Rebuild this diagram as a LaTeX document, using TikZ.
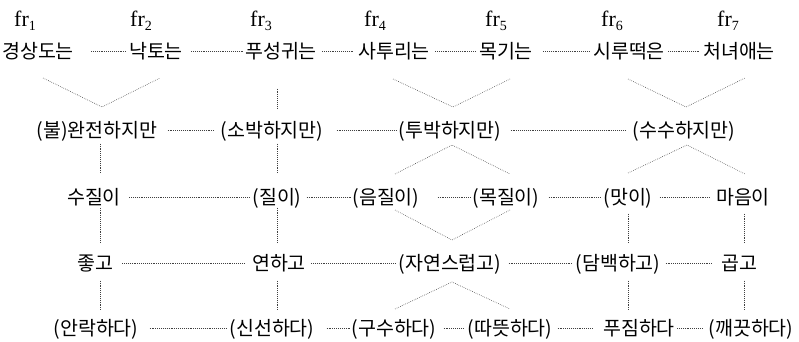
\documentclass[tikz,border=0pt]{standalone}
\usepackage{fontspec}
\setmainfont{Liberation Serif}
\newfontfamily\kr{Noto Sans CJK KR}
\tikzset{
  kw/.style={inner sep=0pt, text height=15pt, text depth=0pt, font=\kr\fontsize{19.5}{19.5}\selectfont},
  frl/.style={inner sep=0pt, anchor=base, font=\fontsize{22}{22}\selectfont},
  dl/.style={draw=black!75, line width=0.6pt, dash pattern=on 0.6pt off 1.3pt}
}
\newcommand{\frlab}[1]{fr{\fontsize{14}{14}\selectfont\raisebox{-4pt}{#1}}}
\begin{document}
\begin{tikzpicture}[x=1pt,y=-1pt]
\useasboundingbox (0,0) rectangle (799,342);
% headers
\node[frl] (f1) at (25,27) {\frlab{1}};
\node[frl] (f2) at (141,27) {\frlab{2}};
\node[frl] (f3) at (261,27) {\frlab{3}};
\node[frl] (f4) at (375,27) {\frlab{4}};
\node[frl] (f5) at (496,27) {\frlab{5}};
\node[frl] (f6) at (612,27) {\frlab{6}};
\node[frl] (f7) at (728,27) {\frlab{7}};
% columns for verticals
\coordinate (c1) at (100,0);
\coordinate (c3) at (277,0);
\coordinate (c6) at (628,0);
\coordinate (c7) at (744,0);
% row 1
\node[kw] (a1) at (38,51) {경상도는};
\node[kw] (a2) at (156,51) {낙토는};
\node[kw] (a3) at (281,51) {푸성귀는};
\node[kw] (a4) at (394,51) {사투리는};
\node[kw] (a5) at (506,51) {목기는};
\node[kw] (a6) at (629,51) {시루떡은};
\node[kw] (a7) at (739,51) {처녀애는};
% row 2
\node[kw] (b1) at (97,130) {(불)완전하지만};
\node[kw] (b2) at (272,130) {(소박하지만)};
\node[kw] (b3) at (450,130) {(투박하지만)};
\node[kw] (b4) at (684,130) {(수수하지만)};
% row 3
\node[kw] (d1) at (94,197) {수질이};
\node[kw] (d2) at (277,197) {(질이)};
\node[kw] (d3) at (386,197) {(음질이)};
\node[kw] (d4) at (506,197) {(목질이)};
\node[kw] (d5) at (628,197) {(맛이)};
\node[kw] (d6) at (743,197) {마음이};
% row 4
\node[kw] (e1) at (95,263) {좋고};
\node[kw] (e2) at (279,263) {연하고};
\node[kw] (e3) at (450,263) {(자연스럽고)};
\node[kw] (e4) at (618,263) {(담백하고)};
\node[kw] (e5) at (739,263) {곱고};
% row 5
\node[kw] (g1) at (96,328) {(안락하다)};
\node[kw] (g2) at (272,328) {(신선하다)};
\node[kw] (g3) at (394,328) {(구수하다)};
\node[kw] (g4) at (510,328) {(따뜻하다)};
\node[kw] (g5) at (639,328) {푸짐하다};
\node[kw] (g6) at (751,328) {(깨끗하다)};
% horizontal dotted links
\draw[dl] ([xshift=17pt]a1.east) -- ([xshift=-3pt]a2.west);
\draw[dl] ([xshift=8pt]a2.east) -- ([xshift=-1pt]a3.west);
\draw[dl] ([xshift=5pt]a3.east) -- ([xshift=-5pt]a4.west);
\draw[dl] ([xshift=5pt]a4.east) -- ([xshift=-3pt]a5.west);
\draw[dl] ([xshift=10pt]a5.east) -- ([xshift=-4pt]a6.west);
\draw[dl] ([xshift=3pt]a6.east) -- ([xshift=-4pt]a7.west);
\draw[dl] ([xshift=10pt]b1.east) -- ([xshift=-6pt]b2.west);
\draw[dl] ([xshift=13pt]b2.east) -- ([xshift=-2pt]b3.west);
\draw[dl] ([xshift=9pt]b3.east) -- ([xshift=-6pt]b4.west);
\draw[dl] ([xshift=8pt]d1.east) -- ([xshift=-2pt]d2.west);
\draw[dl] ([xshift=5pt]d2.east) -- ([xshift=-1pt]d3.west);
\draw[dl] ([xshift=18pt]d3.east) -- ([xshift=-1pt]d4.west);
\draw[dl] ([xshift=9pt]d4.east) -- ([xshift=-3pt]d5.west);
\draw[dl] ([xshift=7pt]d5.east) -- ([xshift=-6pt]d6.west);
\draw[dl] ([xshift=9pt]e1.east) -- ([xshift=-8pt]e2.west);
\draw[dl] ([xshift=5pt]e2.east) -- ([xshift=-2pt]e3.west);
\draw[dl] ([xshift=7pt]e3.east) -- ([xshift=-3pt]e4.west);
\draw[dl] ([xshift=5pt]e4.east) -- ([xshift=-8pt]e5.west);
\draw[dl] ([xshift=11pt]g1.east) -- ([xshift=-3pt]g2.west);
\draw[dl] ([xshift=12pt]g2.east) -- ([xshift=-1pt]g3.west);
\draw[dl] ([xshift=7pt]g3.east) -- ([xshift=-3pt]g4.west);
\draw[dl] ([xshift=5pt]g4.east) -- ([xshift=-11pt]g5.west);
\draw[dl] ([xshift=2pt]g5.east) -- ([xshift=-5pt]g6.west);
% vertical dotted links
\draw[dl, shorten <=30pt, shorten >=13pt] (a3.south -| c3) -- (b2.north -| c3);
\draw[dl, shorten <=6pt, shorten >=17pt] (b1.south -| c1) -- (d1.north -| c1);
\draw[dl, shorten <=6pt, shorten >=17pt] (b2.south -| c3) -- (d2.north -| c3);
\draw[dl, shorten <=3pt, shorten >=13pt] (d1.south -| c1) -- (e1.north -| c1);
\draw[dl, shorten <=3pt, shorten >=13pt] (d2.south -| c3) -- (e2.north -| c3);
\draw[dl, shorten <=9pt, shorten >=13pt] (d5.south -| c6) -- (e4.north -| c6);
\draw[dl, shorten <=9pt, shorten >=13pt] (d6.south -| c7) -- (e5.north -| c7);
\draw[dl, shorten <=10pt, shorten >=11pt] (e1.south -| c1) -- (g1.north -| c1);
\draw[dl, shorten <=10pt, shorten >=11pt] (e2.south -| c3) -- (g2.north -| c3);
\draw[dl, shorten <=10pt, shorten >=11pt] (e4.south -| c6) -- (g5.north -| c6);
\draw[dl, shorten <=10pt, shorten >=11pt] (e5.south -| c7) -- (g6.north -| c7);
% V and inverted-V junctions
\coordinate (v1l) at (43,78);  \coordinate (v1) at (102,107); \coordinate (v1r) at (160,78);
\coordinate (v2l) at (393,79); \coordinate (v2) at (453,107); \coordinate (v2r) at (510,79);
\coordinate (v3l) at (628,79); \coordinate (v3) at (686,107); \coordinate (v3r) at (745,78);
\coordinate (w1l) at (395,174); \coordinate (w1) at (452,145); \coordinate (w1r) at (510,174);
\coordinate (w2l) at (628,173); \coordinate (w2) at (687,145); \coordinate (w2r) at (745,174);
\coordinate (v4l) at (395,210); \coordinate (v4) at (452,240); \coordinate (v4r) at (510,210);
\coordinate (w3l) at (395,309); \coordinate (w3) at (452,282); \coordinate (w3r) at (510,309);
\draw[dl] (v1l) -- (v1) -- (v1r);
\draw[dl] (v2l) -- (v2) -- (v2r);
\draw[dl] (v3l) -- (v3) -- (v3r);
\draw[dl] (w1l) -- (w1) -- (w1r);
\draw[dl] (w2l) -- (w2) -- (w2r);
\draw[dl] (v4l) -- (v4) -- (v4r);
\draw[dl] (w3l) -- (w3) -- (w3r);
\end{tikzpicture}
\end{document}
